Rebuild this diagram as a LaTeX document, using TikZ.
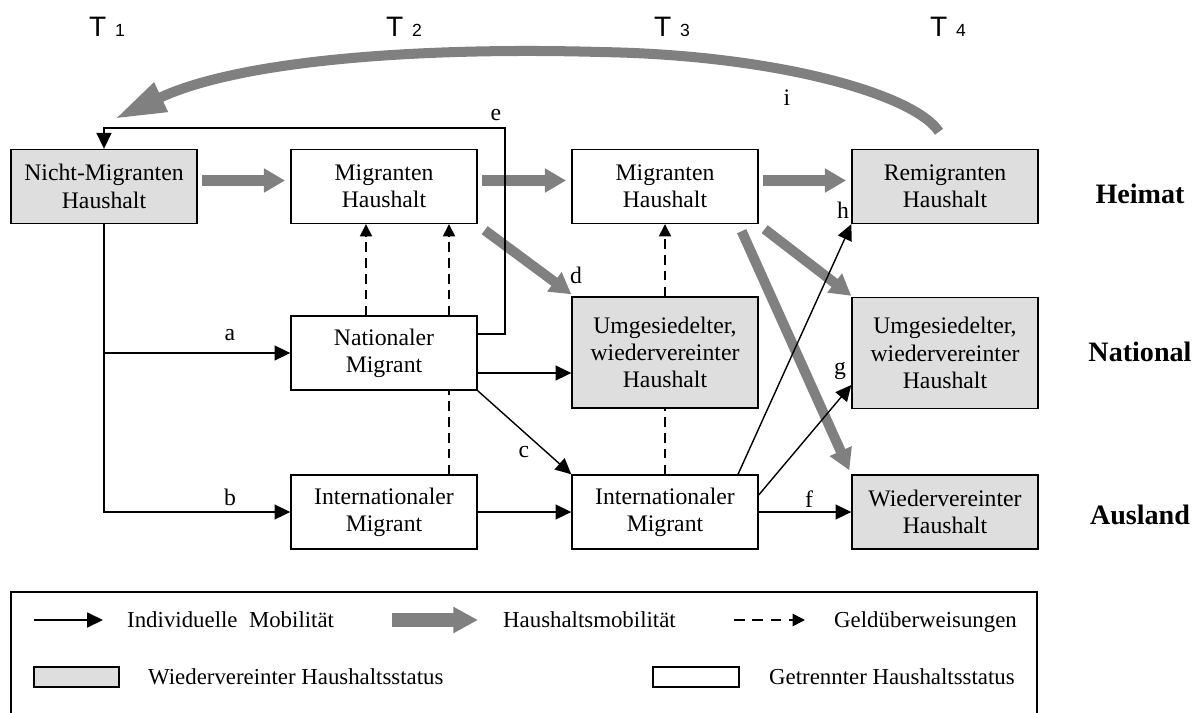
\documentclass[tikz,border=0pt]{standalone}
\usepackage{fontspec}
\setmainfont{Liberation Serif}
\newfontfamily\tfont{Liberation Sans}
\usetikzlibrary{arrows.meta}
\colorlet{hhgrey}{black!50}
\colorlet{boxgrey}{black!13}

\begin{document}
\begin{tikzpicture}[x=0.02cm, y=-0.02cm,
        txt/.style={font=\fontsize{13.5}{15.5}\selectfont},
        hbox/.style={draw, line width=0.8pt, txt, align=center, minimum width=3.72cm, minimum height=1.48cm, inner sep=0pt},
        tallbox/.style={hbox, minimum height=2.22cm},
        rbox/.style={fill=boxgrey},
        indiv/.style={line width=0.8pt, -{Triangle[length=9pt,width=8.5pt]}},
        remit/.style={line width=0.8pt, dash pattern=on 5.5pt off 3.5pt},
        remtip/.style={-{Triangle[length=7pt,width=7pt]}},
        hhmob/.style={draw=hhgrey, line width=5.7pt, -{Triangle[length=12pt,width=13pt]}},
        lbl/.style={txt, inner sep=1pt},
        legtxt/.style={font=\fontsize{13}{15}\selectfont, anchor=base west},
        place/.style={font=\fontsize{16}{16}\selectfont\bfseries}]
    \useasboundingbox (0,0) rectangle (1200,713);
        \node[hbox, rbox] (nicht) at (104,186.5) {Nicht-Migranten\\Haushalt};
        \node[hbox] (mig2) at (384,186.5) {Migranten\\Haushalt};
        \node[hbox] (mig3) at (665,186.5) {Migranten\\Haushalt};
        \node[hbox, rbox] (remig) at (945,186.5) {Remigranten\\Haushalt};
        \node[hbox] (nat) at (384,353) {Nationaler\\Migrant};
        \node[tallbox, rbox] (umg3) at (665,352.5) {Umgesiedelter,\\wiedervereinter\\Haushalt};
        \node[tallbox, rbox] (umg4) at (945,353) {Umgesiedelter,\\wiedervereinter\\Haushalt};
        \node[hbox] (int2) at (384,512) {Internationaler\\Migrant};
        \node[hbox] (int3) at (665,512) {Internationaler\\Migrant};
        \node[hbox, rbox] (wieder) at (945,512) {Wiedervereinter\\Haushalt};
        \foreach \n/\x in {1/107,2/404,3/672,4/948}{
            \node[font=\tfont\fontsize{16}{16}\selectfont] (t\n) at (\x,27) {T\hspace{5pt}{\fontsize{10}{10}\selectfont\n}};
        }
        \node[place] (heimat) at (1140,194) {Heimat};
        \node[place] (national) at (1140,352) {National};
        \node[place] (ausland) at (1140,515) {Ausland};
        \draw[hhmob, shorten <=2.5pt, shorten >=3pt] ([shift={(0,-6)}]nicht.east) -- ([shift={(0,-6)}]mig2.west);
        \draw[hhmob, shorten <=2.5pt, shorten >=3pt] ([shift={(0,-6)}]mig2.east) -- ([shift={(0,-6)}]mig3.west);
        \draw[hhmob, shorten <=2.5pt, shorten >=3pt] ([shift={(0,-6)}]mig3.east) -- ([shift={(0,-6)}]remig.west);
        \draw[hhmob] ([shift={(7,6)}]mig2.south east) -- ([shift={(0,-2)}]umg3.north west);
        \draw[hhmob] ([shift={(-17,7)}]mig3.south east) -- ([shift={(-2,-4)}]wieder.north west);
        \draw[hhmob] ([shift={(6,5)}]mig3.south east) -- ([shift={(0,-1)}]umg4.north west);
        \draw[draw=hhgrey, line width=5.7pt, -{Triangle[length=29pt,width=17pt]}] ([shift={(-6,-17)}]remig.north) .. controls (915,95) and (780,55) .. (600,52) .. controls (420,47) and (240,60) .. ([shift={(11,-30)}]nicht.north);
        \coordinate (etop) at (505,128);
        \coordinate (nu) at ([shift={(0,20)}]nat.east);
        \draw[indiv] (nicht.south) |- (int2.west);
        \draw[indiv] (nicht.south |- nat.west) -- (nat.west);
        \draw[indiv] ([shift={(0,-19)}]nat.east) -| (etop) -| (nicht.north);
        \draw[indiv] (nu) -- (nu -| umg3.west);
        \draw[indiv] (nat.south east) -- (int3.north west);
        \draw[indiv] (int2.east) -- (int3.west);
        \draw[indiv] (int3.east) -- (wieder.west);
        \draw[indiv] ([shift={(0,-17)}]int3.east) -- ([shift={(0,32)}]umg4.west);
        \draw[indiv] ([shift={(73,0)}]int3.north) -- (remig.south west);
        \draw[remit, remtip] ([shift={(-18,0)}]nat.north) -- ([shift={(-18,0)}]mig2.south);
        \draw[remit, remtip] ([shift={(65,0)}]nat.north) -- ([shift={(65,0)}]mig2.south);
        \draw[remit] ([shift={(65,0)}]int2.north) -- ([shift={(65,0)}]nat.south);
        \draw[remit, remtip] (umg3.north) -- (mig3.south);
        \draw[remit] (int3.north) -- (umg3.south);
        \node[lbl] (la) at (230,335) {a};
        \node[lbl] (lb) at (230,497) {b};
        \node[lbl] (lc) at (524,452) {c};
        \node[lbl] (ld) at (576,275) {d};
        \node[lbl] (le) at (496,115) {e};
        \node[lbl] (lf) at (809,499) {f};
        \node[lbl] (lg) at (840,371) {g};
        \node[lbl] (lh) at (843,210) {h};
        \node[lbl] (li) at (787,98) {i};
        \draw[line width=0.8pt] (11,713) -- (11,592) -- (1037,592) -- (1037,713);
        \coordinate (lm1) at (34,620);
        \coordinate (lm2) at (103,620);
        \coordinate (lh1) at (392,620);
        \coordinate (lh2) at (478,620);
        \coordinate (lr1) at (734,620);
        \coordinate (lr2) at (805,620);
        \draw[indiv] (lm1) -- (lm2);
        \draw[draw=hhgrey, line width=8pt, -{Triangle[length=14pt,width=14pt]}] (lh1) -- (lh2);
        \draw[remit, dash pattern=on 6pt off 4.5pt, remtip] (lr1) -- (lr2);
        \node[legtxt] (lmob) at (121,627) {Individuelle~ Mobilität};
        \node[legtxt] (lhh) at (497,627) {Haushaltsmobilität};
        \node[legtxt] (lgeld) at (828,627) {Geldüberweisungen};
        \node[draw, line width=0.8pt, fill=boxgrey, minimum width=1.7cm, minimum height=0.4cm, inner sep=0pt] (lrbox) at (76.5,677) {};
        \node[legtxt] (lrtxt) at (142,684) {Wiedervereinter Haushaltsstatus};
        \node[draw, line width=0.8pt, minimum width=1.72cm, minimum height=0.4cm, inner sep=0pt] (lsbox) at (696,677) {};
        \node[legtxt] (lstxt) at (763,684) {Getrennter Haushaltsstatus};
    \end{tikzpicture}
\end{document}
